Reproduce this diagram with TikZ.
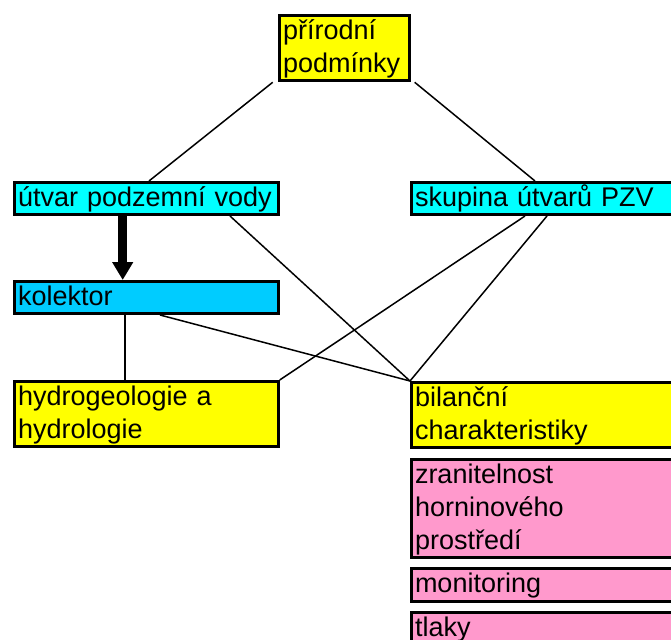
\documentclass[tikz,border=0pt]{standalone}
\usepackage{fontspec}
\setmainfont{Liberation Sans}
\usetikzlibrary{calc,arrows.meta}
\definecolor{boxyellow}{HTML}{FFFF00}
\definecolor{boxcyan}{HTML}{00FFFF}
\definecolor{boxblue}{HTML}{00CCFF}
\definecolor{boxpink}{HTML}{FF99CC}
\begin{document}
\begin{tikzpicture}[x=1pt,y=-1pt,
  box/.style={draw=black, line width=3pt, rectangle, anchor=north west,
    align=left, inner xsep=3.5pt, inner ysep=0pt, text height=24pt,
    font=\fontsize{27}{33}\selectfont},
  oneline/.style={text depth=8pt},
  twoline/.style={text depth=41pt},
  threeline/.style={text depth=74pt},
  leftcol/.style={text width=256.7pt},
  rightcol/.style={text width=283pt},
  link/.style={line width=1.5pt},
  bigarrow/.style={line width=9pt, -{Triangle[width=20pt,length=18pt]}}]
\clip (0,0) rectangle (671,639);

% top
\node[box,twoline,fill=boxyellow,text width=122.5pt] (prir) at (278,14.3) {přírodní\\podmínky};

% second row
\node[box,oneline,leftcol,fill=boxcyan] (utvar) at (13,181) {útvar podzemní vody};
\node[box,oneline,rightcol,fill=boxcyan] (skupina) at (410,181) {skupina útvarů PZV};

% collector
\node[box,oneline,leftcol,fill=boxblue] (kolektor) at (13,280) {kolektor};

% lower row
\node[box,twoline,leftcol,fill=boxyellow] (hydro) at (13,380) {hydrogeologie a\\hydrologie};
\node[box,twoline,rightcol,fill=boxyellow] (bil) at (410,381) {bilanční\\charakteristiky};

% right column list
\node[box,threeline,rightcol,fill=boxpink] (zranit) at (410,457.7) {zranitelnost\\horninového\\prostředí};
\node[box,oneline,rightcol,fill=boxpink,text depth=9pt] (monit) at (410,567) {monitoring};
\node[box,oneline,rightcol,fill=boxpink] (tlaky) at (410,611.3) {tlaky};

% connectors
\draw[link] ($(prir.south west)+(-5.3,0)$) -- ($(utvar.north west)+(136,0)$);
\draw[link] ($(prir.south east)+(4.2,0)$) -- ($(skupina.north west)+(125,0)$);
\draw[link] ($(utvar.south west)+(217,0)$) -- (bil.north west);
\draw[link] ($(kolektor.south west)+(147,0)$) -- (bil.north west);
\draw[link] ($(skupina.south west)+(137,0)$) -- (bil.north west);
\draw[link] ($(skupina.south west)+(115,0)$) -- (hydro.north east);
\draw[link] ($(kolektor.south west)+(112,0)$) -- ($(hydro.north west)+(112,0)$);

\draw[bigarrow] ($(utvar.south west)+(109.7,0)$) -- ($(kolektor.north west)+(109.7,0)$);
\end{tikzpicture}
\end{document}
